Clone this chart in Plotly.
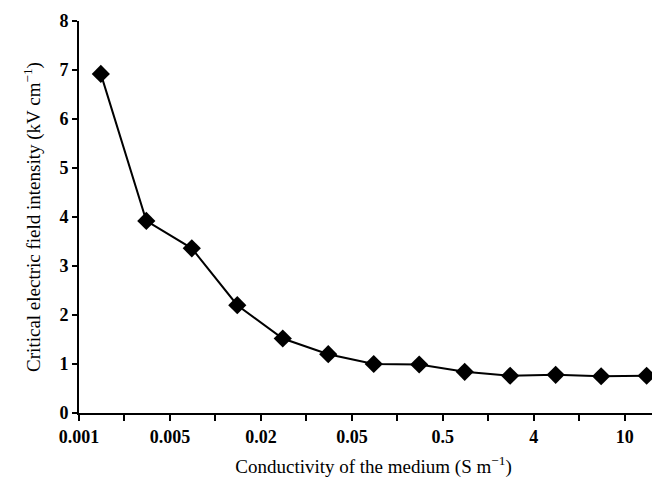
import plotly.graph_objects as go

# Data
conductivity_labels = ["0.001", "0.005", "0.02", "0.05", "0.5", "4", "10"]
label_positions = [0, 2, 4, 6, 8, 10, 12]
minor_positions = [1, 3, 5, 7, 9, 11]
point_index = list(range(13))
field_intensity = [6.92, 3.92, 3.36, 2.20, 1.52, 1.20, 1.00, 0.99, 0.84, 0.76, 0.78, 0.75, 0.76]
y_ticks = [0, 1, 2, 3, 4, 5, 6, 7, 8]

x_pos = [i + 0.48 for i in point_index]

fig = go.Figure()
fig.add_trace(go.Scatter(
    x=x_pos, y=field_intensity,
    mode="lines+markers",
    line=dict(color="black", width=2),
    marker=dict(symbol="diamond", size=14, color="black"),
    showlegend=False,
))

serif = "Liberation Serif"
fig.update_layout(
    width=660, height=491,
    margin=dict(l=71, r=0, t=13, b=86),
    paper_bgcolor="white", plot_bgcolor="white",
    font=dict(family=serif, color="black", size=19),
)
fig.update_xaxes(
    range=[0, 12.95],
    tickmode="array", tickvals=label_positions, ticktext=conductivity_labels,
    ticks="outside", ticklen=6, tickwidth=2, tickcolor="black",
    minor=dict(tickmode="array", tickvals=minor_positions, ticks="outside",
               ticklen=6, tickwidth=2, tickcolor="black", showgrid=False),
    showline=True, linewidth=2, linecolor="black",
    showgrid=False, zeroline=False,
    tickfont=dict(family=serif, size=18, weight="bold"),
    title=dict(text="Conductivity of the medium (S m<sup>\u2212</sup><sup>1</sup>)",
               font=dict(family=serif, size=19), standoff=14),
)
fig.update_yaxes(
    range=[0, 8],
    tickmode="array", tickvals=y_ticks,
    ticks="outside", ticklen=5, tickwidth=2, tickcolor="black",
    showline=True, linewidth=2, linecolor="black",
    showgrid=False, zeroline=False,
    tickfont=dict(family=serif, size=18, weight="bold"),
    title=dict(text="Critical electric field intensity (kV cm<sup>\u2212</sup><sup>1</sup>)",
               font=dict(family=serif, size=19), standoff=14),
)

fig.write_html("out.html")
